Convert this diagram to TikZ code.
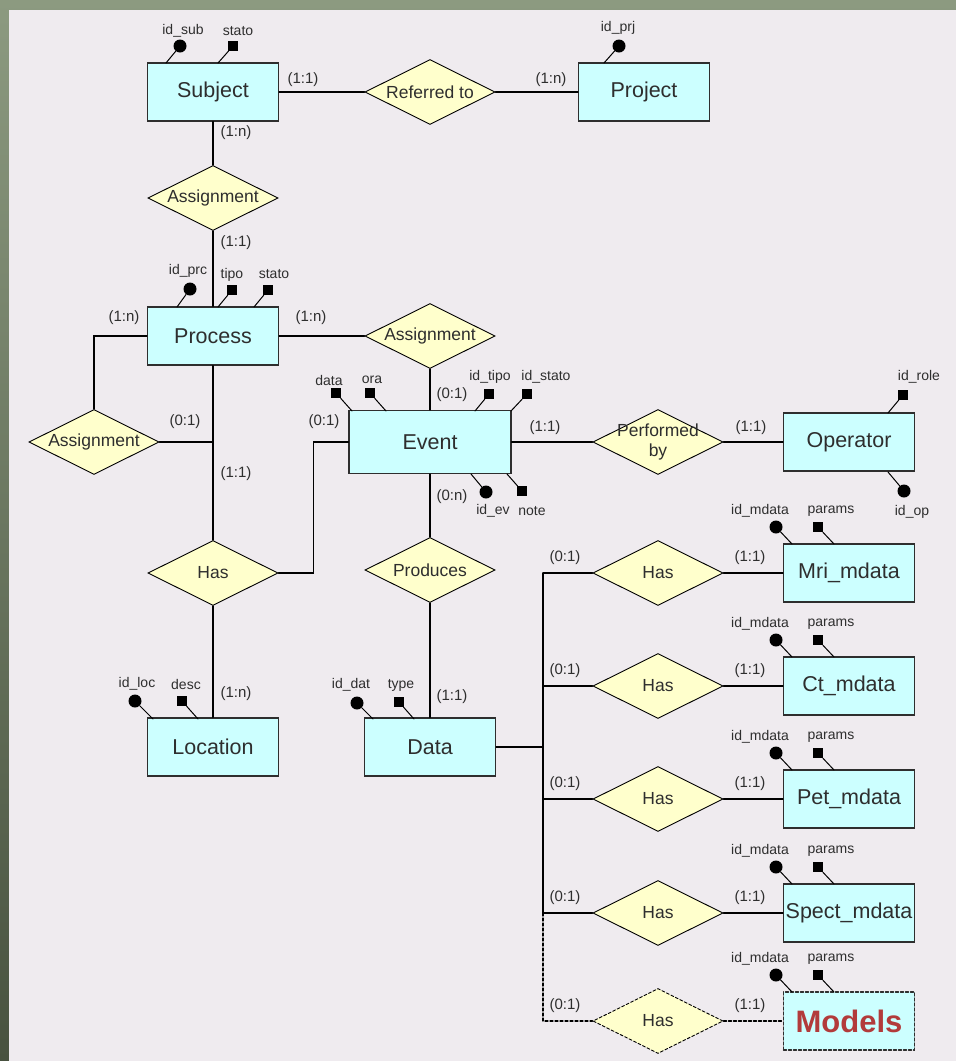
\documentclass[tikz,border=0pt]{standalone}
\usepackage{fontspec}
\setmainfont{Liberation Sans}
\usetikzlibrary{shapes.geometric,calc}

\definecolor{bgtop}{HTML}{8C9A80}
\definecolor{bgbot}{HTML}{48523F}
\definecolor{panel}{HTML}{EFEBEF}
\definecolor{entfill}{HTML}{CCFFFF}
\definecolor{relfill}{HTML}{FFFFCC}
\definecolor{ink}{HTML}{2E2E2E}
\definecolor{modred}{HTML}{B23B3B}

\begin{document}
\begin{tikzpicture}[x=1pt,y=-1pt,line cap=round,
    entity/.style={rectangle,draw=ink,line width=1.3pt,fill=entfill,text=ink,
      minimum width=131,minimum height=58,inner sep=0,font=\fontsize{21.5}{25}\selectfont},
    rel/.style={diamond,aspect=2,draw=black,line width=0.9pt,fill=relfill,text=ink,
      minimum width=130,minimum height=65,inner sep=0,font=\fontsize{17.5}{20}\selectfont},
    card/.style={text=ink,inner sep=0,font=\fontsize{15}{17}\selectfont},
    atxt/.style={text=ink,inner sep=0,font=\fontsize{14}{16}\selectfont},
    keydot/.style={circle,fill=black,inner sep=0,minimum size=13},
    attrsq/.style={rectangle,fill=black,inner sep=0,minimum size=10},
    link/.style={line width=1.3pt},
    stub/.style={line width=1pt},
    maybe/.style={dash pattern=on 3pt off 2pt}]
    \useasboundingbox (0,0) rectangle (956,1061);

    % draw the background
    \shade[top color=bgtop,bottom color=bgbot] (0,0) rectangle (956,1061);
    \fill[panel] (9,10) rectangle (956,1061);

    % draw the entities
    \node[entity] (subj) at (213,92) {Subject};
    \node[entity] (prj) at (644,92) {Project};
    \node[entity] (proc) at (213,336) {Process};
    \node[entity,minimum width=162,minimum height=63] (event) at (430,442) {Event};
    \node[entity] (oper) at (849,442) {Operator};
    \node[entity] (loc) at (213,747) {Location};
    \node[entity] (data) at (430,747) {Data};

    % draw the relationships
    \node[rel] (ref) at (430,92) {\makebox[0pt]{Referred to}};
    \node[rel] (asg1) at (213,198) {\makebox[0pt]{Assignment}};
    \node[rel] (asg2) at (430,336) {\makebox[0pt]{Assignment}};
    \node[rel] (asg3) at (94,442) {\makebox[0pt]{Assignment}};
    \node[rel] (perf) at (658,442) {\makebox[0pt]{\begin{tabular}{@{}c@{}}Performed\\by\end{tabular}}};
    \node[rel] (has1) at (213,573) {\makebox[0pt]{Has}};
    \node[rel] (prod) at (430,570) {\makebox[0pt]{Produces}};

    % connect them
    \draw[link] (subj) -- (ref) -- (prj);
    \draw[link] (subj) -- (asg1) -- (proc);
    \draw[link] (proc) -- (asg2) -- (event);
    \draw[link] (proc.west) -| (asg3.north);
    \draw[link] (asg3.east) -- (asg3.east -| proc.south);
    \draw[link] (proc) -- (has1) -- (loc);
    \draw[link] (has1.east) -- ++(35,0) |- (event.west);
    \draw[link] (event) -- (perf) -- (oper);
    \draw[link] (event) -- (prod) -- (data);

    % the metadata branch
    \coordinate (spine) at (543,747);
    \foreach \nm/\y/\txt in {mri/573/Mri\_mdata, ct/686/Ct\_mdata,
      pet/799/Pet\_mdata, spect/913/Spect\_mdata} {
      \node[rel] (has-\nm) at (658,\y) {\makebox[0pt]{Has}};
      \node[entity] (\nm) at (849,\y) {\txt};
      \draw[link] (has-\nm.west -| spine) -- (has-\nm) -- (\nm);
    }
    \node[rel,maybe] (has-models) at (658,1021) {\makebox[0pt]{Has}};
    \node[entity,maybe,font=\fontsize{31}{34}\bfseries,text=modred] (models) at (849,1021) {Models};
    \draw[link] (data.east) -- (spine);
    \draw[link] (has-mri.west -| spine) -- (has-spect.west -| spine);
    \draw[link,maybe] (has-spect.west -| spine) |- (has-models) -- (models);

    % attributes and cardinalities of the metadata
    \foreach \nm/\y in {mri/573,ct/686,pet/799,spect/913,models/1021} {
      \node[keydot] (\nm-k) at (776,\y-46) {};
      \node[attrsq] (\nm-p) at (818,\y-46) {};
      \coordinate (\nm-ke) at (792,\y-29);
      \coordinate (\nm-pe) at (834,\y-29);
      \draw[stub] (\nm-k) -- (\nm-ke);
      \draw[stub] (\nm-p) -- (\nm-pe);
      \node[atxt] (\nm-kt) at (760,\y-62) {id\_mdata};
      \node[atxt] (\nm-pt) at (831,\y-62) {params};
      \node[card] (\nm-c0) at (565,\y-15) {(0:1)};
      \node[card] (\nm-c1) at (750,\y-15) {(1:1)};
    }

    % draw the other attributes
    \foreach \nm/\kind/\mx/\my/\ex/\ey/\lx/\ly/\txt in {
      % subject and project
      as1/keydot/180/46/166/63/183/31/id\_sub,
      as2/attrsq/233/46/218/63/238/31/stato,
      aj1/keydot/619/46/604/63/618/28/id\_prj,
      % process
      ap1/keydot/190/289/177/307/188/271/id\_prc,
      ap2/attrsq/232/290/218/307/232/275/tipo,
      ap3/attrsq/268/290/254/307/274/274/stato,
      % event
      ae1/attrsq/336/393/352/411/329/380/data,
      ae2/attrsq/370/393/386/411/372/380/ora,
      ae3/attrsq/489/394/475/411/490/377/id\_tipo,
      ae4/attrsq/527/394/511/411/546/377/id\_stato,
      ae5/keydot/486/492/471/474/493/511/id\_ev,
      ae6/attrsq/522/491/507/474/532/511/note,
      % operator
      ao1/attrsq/903/395/888/413/919/377/id\_role,
      ao2/keydot/904/491/888/472/912/512/id\_op,
      % location and data
      al1/keydot/135/701/153/719/137/684/id\_loc,
      al2/attrsq/182/701/198/719/186/684/desc,
      ad1/keydot/357/703/373/719/351/685/id\_dat,
      ad2/attrsq/399/702/414/719/401/685/type} {
      \node[\kind] (\nm) at (\mx,\my) {};
      \coordinate (\nm-e) at (\ex,\ey);
      \draw[stub] (\nm) -- (\nm-e);
      \node[atxt] (\nm-t) at (\lx,\ly) {\txt};
    }

    % draw the cardinalities
    \foreach \nm/\x/\y/\txt in {
      c1/303/80/(1:1), c2/551/80/(1:n), c3/236/133/(1:n), c4/236/243/(1:1),
      c5/124/318/(1:n), c6/311/318/(1:n), c7/185/422/(0:1), c8/236/474/(1:1),
      c9/324/422/(0:1), c10/452/395/(0:1), c11/452/497/(0:n), c12/452/697/(1:1),
      c13/236/694/(1:n), c14/545/428/(1:1), c15/751/428/(1:1)}
    \node[card] (\nm) at (\x,\y) {\txt};
\end{tikzpicture}
\end{document}
